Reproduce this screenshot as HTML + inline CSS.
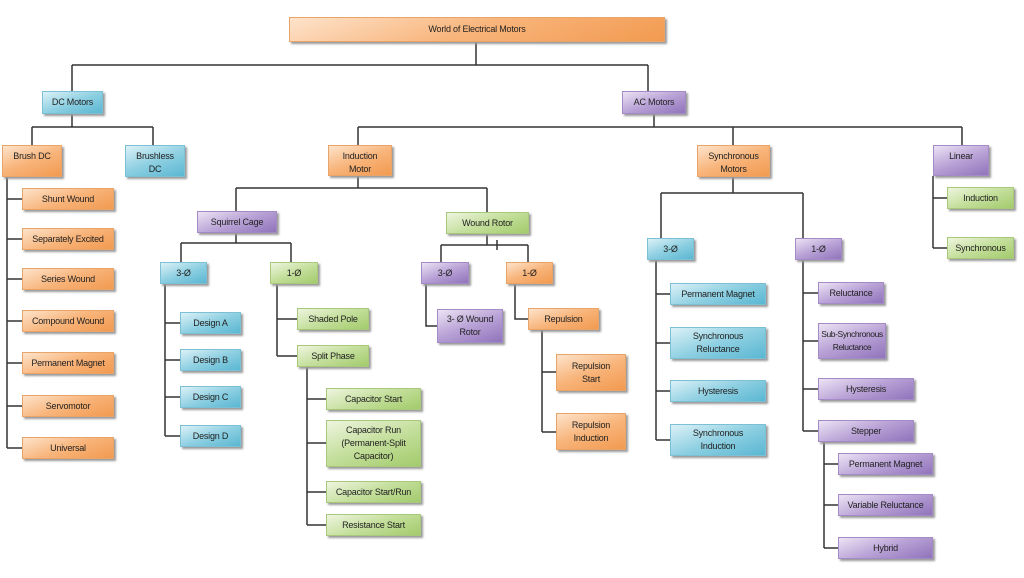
<!DOCTYPE html><html><head><meta charset="utf-8"><style>
body{margin:0;width:1024px;height:578px;background:#fff;position:relative;overflow:hidden;font-family:"Liberation Sans",sans-serif}
svg{position:absolute;left:0;top:0}
.b{position:absolute;box-sizing:border-box;font-size:9px;color:#222;text-align:center;line-height:13px;padding-top:4px;box-shadow:2px 2px 2px #999;white-space:nowrap;letter-spacing:-0.2px}
.o{background:linear-gradient(160deg,#fde3cb 0%,#f8b47a 50%,#f29a50 100%);border:1px solid #e9a46a}
.u{background:linear-gradient(160deg,#dcf1f7 0%,#8fd0e2 50%,#5ab7d2 100%);border:1px solid #7cc0d6}
.p{background:linear-gradient(160deg,#ece3f4 0%,#b9a2d6 50%,#9074bb 100%);border:1px solid #a58ac8}
.g{background:linear-gradient(160deg,#eef5df 0%,#c4df9c 50%,#a3cb6c 100%);border:1px solid #a8c97c}
.c{display:flex;align-items:center;justify-content:center;padding-top:0}
</style></head><body>
<svg width="1024" height="578" stroke="#333" stroke-width="1.5" fill="none">
<path d="M476 42V65M72 65H648M72 65V91M648 65V91"/>
<path d="M72 114V127M32 127H153M32 127V145M153 127V145"/>
<path d="M7 177V448M7 199H22M7 239H22M7 279H22M7 321H22M7 363H22M7 406H22M7 448H22"/>
<path d="M654 114V127M358 127H962M358 127V145M733 127V145M962 127V145"/>
<path d="M358 176V188M236 188H487M236 188V211M487 188V212"/>
<path d="M236 233V243M181 243H291M181 243V262M291 243V262"/>
<path d="M165 284V436M165 323H180M165 360H180M165 397H180M165 436H180"/>
<path d="M277 284V356M277 319H297M277 356H297"/>
<path d="M307 367V525M307 399H326M307 443H326M307 492H326M307 525H326"/>
<path d="M487 234V245M441 245H528M441 245V262M528 245V262M497 240V250"/>
<path d="M426 284V326H437M515 284V319H528"/>
<path d="M542 330V432M542 372H556M542 432H556"/>
<path d="M733 177V193M661 193H803M661 193V238M803 193V238"/>
<path d="M656 260V440M656 294H670M656 343H670M656 391H670M656 440H670"/>
<path d="M803 260V431M803 293H818M803 341H818M803 389H818M803 431H818"/>
<path d="M824 442V548M824 464H838M824 505H838M824 548H838"/>
<path d="M933 176V248M933 198H947M933 248H947"/>
</svg>
<div class="b o c" style="left:289px;top:17px;width:376px;height:25px">World of Electrical Motors</div>
<div class="b u c" style="left:42px;top:91px;width:61px;height:23px">DC Motors</div>
<div class="b p c" style="left:622px;top:91px;width:64px;height:23px">AC Motors</div>
<div class="b o" style="left:2px;top:145px;width:60px;height:32px">Brush DC</div>
<div class="b u" style="left:125px;top:145px;width:60px;height:32px">Brushless<br>DC</div>
<div class="b o c" style="left:22px;top:188px;width:92px;height:22px">Shunt Wound</div>
<div class="b o c" style="left:22px;top:228px;width:92px;height:22px">Separately Excited</div>
<div class="b o c" style="left:22px;top:268px;width:92px;height:22px">Series Wound</div>
<div class="b o c" style="left:22px;top:310px;width:92px;height:22px">Compound Wound</div>
<div class="b o c" style="left:22px;top:352px;width:92px;height:22px">Permanent Magnet</div>
<div class="b o c" style="left:22px;top:395px;width:92px;height:22px">Servomotor</div>
<div class="b o c" style="left:22px;top:437px;width:92px;height:22px">Universal</div>
<div class="b o" style="left:328px;top:145px;width:64px;height:31px">Induction<br>Motor</div>
<div class="b o" style="left:697px;top:145px;width:73px;height:32px">Synchronous<br>Motors</div>
<div class="b p" style="left:933px;top:145px;width:56px;height:31px">Linear</div>
<div class="b g c" style="left:947px;top:187px;width:67px;height:22px">Induction</div>
<div class="b g c" style="left:947px;top:237px;width:67px;height:22px">Synchronous</div>
<div class="b p c" style="left:197px;top:211px;width:80px;height:22px">Squirrel Cage</div>
<div class="b g c" style="left:446px;top:212px;width:83px;height:22px">Wound Rotor</div>
<div class="b u c" style="left:160px;top:262px;width:47px;height:22px">3-Ø</div>
<div class="b g c" style="left:270px;top:262px;width:48px;height:22px">1-Ø</div>
<div class="b u c" style="left:180px;top:312px;width:61px;height:22px">Design A</div>
<div class="b u c" style="left:180px;top:349px;width:61px;height:22px">Design B</div>
<div class="b u c" style="left:180px;top:386px;width:61px;height:22px">Design C</div>
<div class="b u c" style="left:180px;top:425px;width:61px;height:22px">Design D</div>
<div class="b g c" style="left:297px;top:308px;width:72px;height:22px">Shaded Pole</div>
<div class="b g c" style="left:297px;top:345px;width:72px;height:22px">Split Phase</div>
<div class="b g c" style="left:326px;top:388px;width:95px;height:22px">Capacitor Start</div>
<div class="b g c" style="left:326px;top:420px;width:95px;height:47px">Capacitor Run<br>(Permanent-Split<br>Capacitor)</div>
<div class="b g c" style="left:326px;top:481px;width:95px;height:22px">Capacitor Start/Run</div>
<div class="b g c" style="left:326px;top:514px;width:95px;height:22px">Resistance Start</div>
<div class="b p c" style="left:421px;top:262px;width:48px;height:22px">3-Ø</div>
<div class="b o c" style="left:506px;top:262px;width:47px;height:22px">1-Ø</div>
<div class="b p c" style="left:437px;top:309px;width:66px;height:34px">3- Ø Wound<br>Rotor</div>
<div class="b o c" style="left:528px;top:308px;width:71px;height:22px">Repulsion</div>
<div class="b o c" style="left:556px;top:354px;width:70px;height:37px">Repulsion<br>Start</div>
<div class="b o c" style="left:556px;top:413px;width:70px;height:37px">Repulsion<br>Induction</div>
<div class="b u c" style="left:647px;top:238px;width:47px;height:22px">3-Ø</div>
<div class="b p c" style="left:795px;top:238px;width:47px;height:22px">1-Ø</div>
<div class="b u c" style="left:670px;top:283px;width:96px;height:22px">Permanent Magnet</div>
<div class="b u c" style="left:670px;top:327px;width:96px;height:32px">Synchronous<br>Reluctance</div>
<div class="b u c" style="left:670px;top:380px;width:96px;height:22px">Hysteresis</div>
<div class="b u c" style="left:670px;top:424px;width:96px;height:32px">Synchronous<br>Induction</div>
<div class="b p c" style="left:818px;top:282px;width:66px;height:22px">Reluctance</div>
<div class="b p c" style="left:818px;top:323px;width:68px;height:36px;font-size:8.5px;letter-spacing:-0.4px">Sub-Synchronous<br>Reluctance</div>
<div class="b p c" style="left:818px;top:378px;width:96px;height:22px">Hysteresis</div>
<div class="b p c" style="left:818px;top:420px;width:96px;height:22px">Stepper</div>
<div class="b p c" style="left:838px;top:453px;width:95px;height:22px">Permanent Magnet</div>
<div class="b p c" style="left:838px;top:494px;width:95px;height:22px">Variable Reluctance</div>
<div class="b p c" style="left:838px;top:537px;width:95px;height:22px">Hybrid</div>
</body></html>
